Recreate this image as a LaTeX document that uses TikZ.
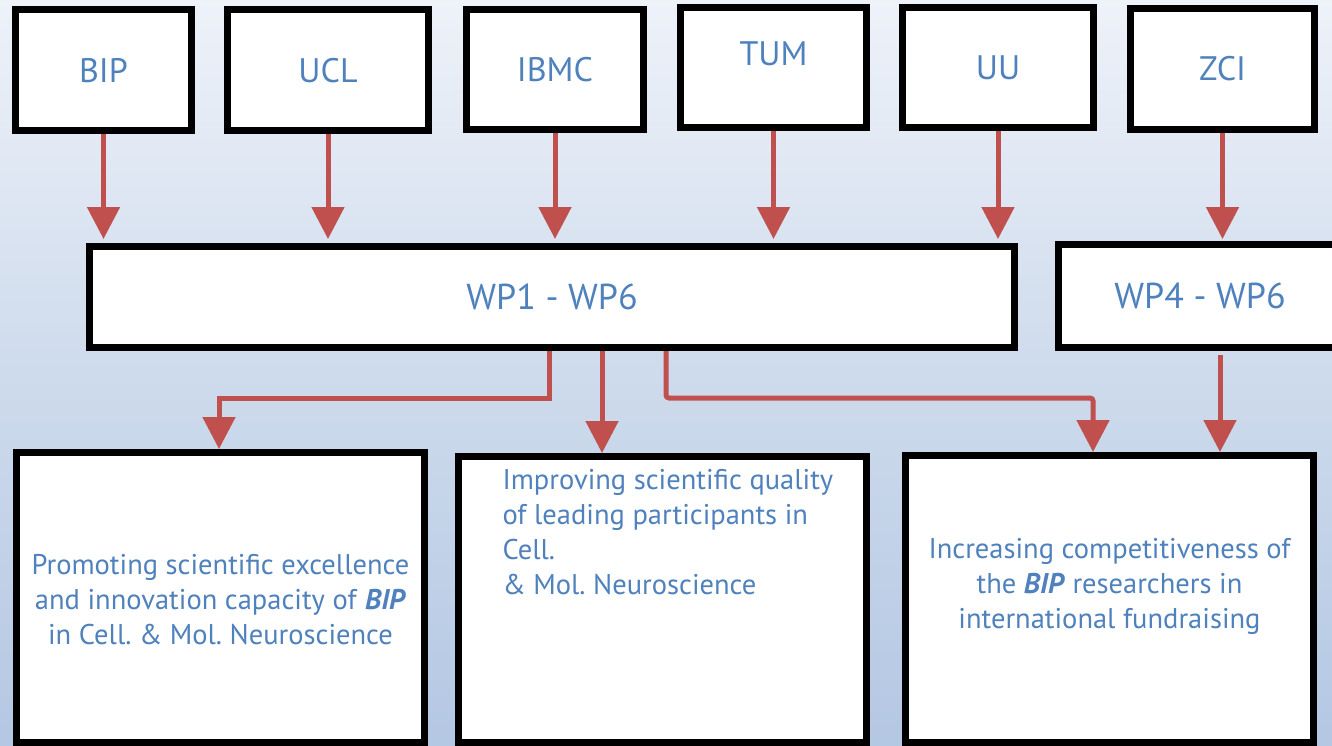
\documentclass[tikz,border=0pt]{standalone}
\usepackage{fontspec}
\setmainfont{PT Sans}
\usetikzlibrary{arrows.meta}
\definecolor{txtblue}{RGB}{79,129,189}
\definecolor{arrred}{RGB}{192,80,77}
\definecolor{bgtop}{RGB}{238,242,249}
\definecolor{bgmid}{RGB}{206,219,236}
\definecolor{bgbot}{RGB}{180,199,227}

\begin{document}
\begin{tikzpicture}[x=1pt,y=-1pt,
  box/.style={draw,line width=7pt,fill=white,text=txtblue,inner sep=0pt},
  partner/.style={box,font=\fontsize{34}{40}\selectfont,minimum height=121pt},
  wpbox/.style={box,font=\fontsize{36}{42}\selectfont},
  goal/.style={box,font=\fontsize{28.5}{35}\selectfont,minimum width=408pt},
  link/.style={draw=arrred,line width=5pt,-{Triangle[width=32pt,length=32pt]}}]
\fill[top color=bgtop,bottom color=bgbot,middle color=bgmid] (0,0) rectangle (1332,746);
\useasboundingbox (0,0) rectangle (1332,746);

% partners
\node[partner,minimum width=176pt] (bip) at (103.5,70.5) {BIP};
\node[partner,minimum width=201pt] (ucl) at (328,70.5) {UCL};
\node[partner,minimum width=177pt,minimum height=120pt] (ibmc) at (555,69.5) {IBMC};
\node[partner,minimum width=186pt,minimum height=120pt,text depth=27pt] (tum) at (773.5,67.5) {TUM};
\node[partner,minimum width=191pt,minimum height=120pt] (uu) at (998,67.5) {UU};
\node[partner,minimum width=184pt] (zci) at (1222.5,69) {ZCI};

% work packages
\node[wpbox,minimum width=925pt,minimum height=101pt] (wp16) at (552,297) {WP1 - WP6};
\node[wpbox,minimum width=283pt,minimum height=103pt] (wp46) at (1200,296) {WP4 - WP6};

% goals
\node[goal,minimum height=290pt] (g1) at (220.5,597.5)
  {\parbox[c][260pt][t]{404pt}{\centering\vspace*{87pt}Promoting scientific excellence\\
   and innovation capacity of \textbf{\textit{BIP}}\\ in Cell.\ \& Mol.\ Neuroscience}};
\node[goal,minimum height=286pt] (g2) at (662.5,599.5)
  {\parbox[c][260pt][t]{360pt}{\raggedright\leftskip=20pt\vspace*{0pt}Improving scientific quality\\
   of leading participants in\\ Cell.\\ \& Mol.\ Neuroscience}};
\node[goal,minimum height=287pt] (g3) at (1109.5,599)
  {\parbox[c][260pt][t]{404pt}{\centering\vspace*{69pt}Increasing competitiveness of\\
   the \textbf{\textit{BIP}} researchers in\\ international fundraising}};

% arrows
\foreach \p in {bip,ucl,ibmc,tum,uu}
  \draw[link,shorten >=4pt] (\p.south) -- (\p.south |- wp16.north);
\draw[link,shorten >=2pt] (zci.south) -- (zci.south |- wp46.north);
\draw[link] ([xshift=-3pt]wp16.south) -- ++(0,47) -| ([xshift=-1.5pt]g1.north);
\draw[link] ([xshift=50pt]wp16.south) -- ([xshift=50pt]wp16.south |- g2.north);
\draw[link,rounded corners=3pt] ([xshift=114pt]wp16.south) -- ++(0,47) -| ([xshift=-16.5pt]g3.north);
\draw[link] ([xshift=20pt,yshift=-4pt]wp46.south) -- ([xshift=20pt]wp46.south |- g3.north);
\end{tikzpicture}
\end{document}
